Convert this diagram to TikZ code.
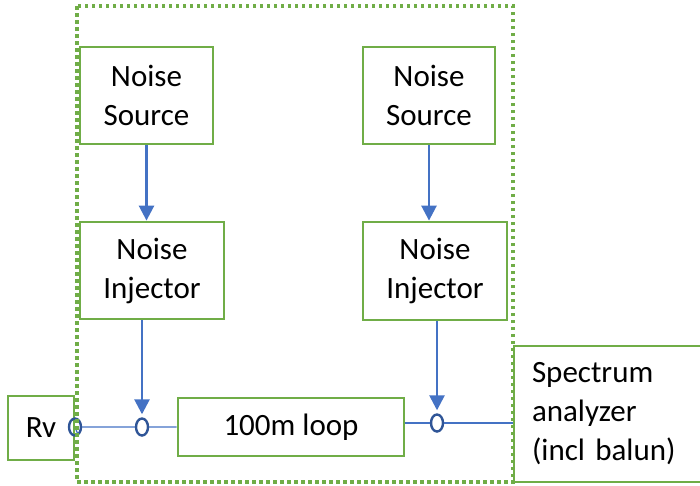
\documentclass[tikz,border=0pt]{standalone}
\usepackage{fontspec}
\setmainfont{Carlito}
\usetikzlibrary{arrows.meta,shapes.geometric}

\definecolor{boxgreen}{RGB}{112,173,71}
\definecolor{feedblue}{RGB}{68,114,196}
\definecolor{portblue}{RGB}{47,85,151}

\begin{document}
\begin{tikzpicture}[x=1pt,y=-1pt,
	block/.style={draw=boxgreen,line width=2.8pt,align=center,inner sep=0pt,
		font=\fontsize{31}{39}\selectfont},
	feed/.style={draw=feedblue,line width=2.6pt,-{Triangle[length=15pt,width=15pt]}},
	wire/.style={draw=feedblue,line width=1.3pt},
	port/.style={ellipse,draw=portblue,line width=2.4pt,minimum width=12pt,
		minimum height=17pt,inner sep=0pt},
	frame/.style={draw=boxgreen,line width=3.2pt,dash pattern=on 3.5pt off 3.5pt}]
	\path[use as bounding box,clip] (0,0) rectangle (700,485);

	% noise chain
	\node[block,minimum width=133,minimum height=97] (srcL) at (146.5,95.5) {Noise\\Source};
	\node[block,minimum width=132,minimum height=97] (srcR) at (429,95.5) {Noise\\Source};
	\node[block,minimum width=144,minimum height=97] (injL) at (152,270.5) {Noise\\Injector};
	\node[block,minimum width=144,minimum height=98] (injR) at (435,271) {Noise\\Injector};

	% line under test
	\node[block,minimum width=66,minimum height=64] (rv) at (41,428) {Rv};
	\node[block,minimum width=226,minimum height=58] (loop) at (291,427) {100m loop};
	\node[block,minimum width=196,minimum height=136,text width=160,align=left]
		(sa) at (612,414) {Spectrum\\analyzer\\(incl balun)};

	% ports
	\node[port] (cA) at (75,427) {};
	\node[port] (cL) at (142,427) {};
	\node[port] (cR) at (437,423) {};

	% wires
	\draw[wire] (rv.east) -- (cA) -- (cL) -- (loop.west);
	\draw[wire] (cR -| loop.east) -- (cR) -- (cR -| sa.west);

	% arrows
	\draw[feed] (srcL) -- (injL.north -| srcL);
	\draw[feed] (srcR) -- (injR.north -| srcR);
	\draw[feed] (injL.south -| cL) -- ([yshift=3pt]cL.north);
	\draw[feed] (injR.south -| cR) -- ([yshift=3pt]cR.north);

	% dotted frame
	\draw[frame] (77,6) rectangle (513,482);

\end{tikzpicture}
\end{document}
